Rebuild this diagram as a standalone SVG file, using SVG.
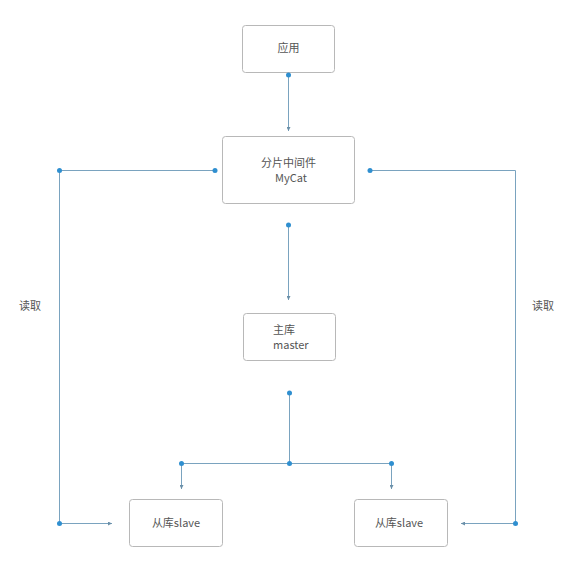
<svg xmlns="http://www.w3.org/2000/svg" width="588" height="562" viewBox="0 0 588 562">
<style>
.box{fill:#fff;stroke:#b8b8b8;stroke-width:1}
.t{font-family:"Noto Sans CJK SC","Liberation Sans",sans-serif;font-size:11px;fill:#555}
.ln{fill:none;stroke:#7aa3bf;stroke-width:1}
.dot{fill:#2f8fd0}
</style>
<defs>
<marker id="ah" viewBox="0 0 6 6" refX="6" refY="3" markerWidth="4" markerHeight="4" orient="auto">
<path d="M0,0 L6,3 L0,6 Z" fill="#6a8fa8"/>
</marker>
</defs>
<rect width="588" height="562" fill="#fff"/>
<g id="app"><rect class="box" x="242.5" y="25.5" width="92" height="47" rx="3"/><text class="t" x="288.5" y="52" text-anchor="middle">应用</text></g>
<g id="mycat"><rect class="box" x="222.5" y="136.5" width="132" height="67" rx="3"/><text class="t" x="288.5" y="167" text-anchor="middle">分片中间件</text><text class="t" x="291" y="182" text-anchor="middle">MyCat</text></g>
<g id="master"><rect class="box" x="243.5" y="313.5" width="92" height="47" rx="3"/><text class="t" x="273" y="334">主库</text><text class="t" x="273" y="349">master</text></g>
<g id="slave1"><rect class="box" x="129.5" y="499.5" width="93" height="47" rx="3"/><text class="t" x="176" y="527" text-anchor="middle">从库slave</text></g>
<g id="slave2"><rect class="box" x="354.5" y="499.5" width="93" height="47" rx="3"/><text class="t" x="399" y="527" text-anchor="middle">从库slave</text></g>
<g id="labels"><text class="t" x="30" y="310" text-anchor="middle">读取</text><text class="t" x="543" y="310" text-anchor="middle">读取</text></g>
<g id="connectors">
<path class="ln" d="M288.5,75 V131" marker-end="url(#ah)"/>
<path class="ln" d="M288.5,225 V300" marker-end="url(#ah)"/>
<path class="ln" d="M215,170.5 H59.5 V523.5 H112" marker-end="url(#ah)"/>
<path class="ln" d="M370,170.5 H515.5 V523.5 H461" marker-end="url(#ah)"/>
<path class="ln" d="M289.5,393 V463.5"/>
<path class="ln" d="M181,463.5 H392"/>
<path class="ln" d="M181.5,463.5 V489" marker-end="url(#ah)"/>
<path class="ln" d="M391.5,463.5 V489" marker-end="url(#ah)"/>
<circle class="dot" cx="288.5" cy="75" r="2.5"/>
<circle class="dot" cx="288.5" cy="225" r="2.5"/>
<circle class="dot" cx="215" cy="170.5" r="2.5"/>
<circle class="dot" cx="59.5" cy="170.5" r="2.5"/>
<circle class="dot" cx="59.5" cy="523.5" r="2.5"/>
<circle class="dot" cx="370" cy="170.5" r="2.5"/>
<circle class="dot" cx="515.5" cy="523.5" r="2.5"/>
<circle class="dot" cx="289.5" cy="393" r="2.5"/>
<circle class="dot" cx="289.5" cy="463.5" r="2.5"/>
<circle class="dot" cx="181.5" cy="463.5" r="2.5"/>
<circle class="dot" cx="391.5" cy="463.5" r="2.5"/>
</g>
</svg>
